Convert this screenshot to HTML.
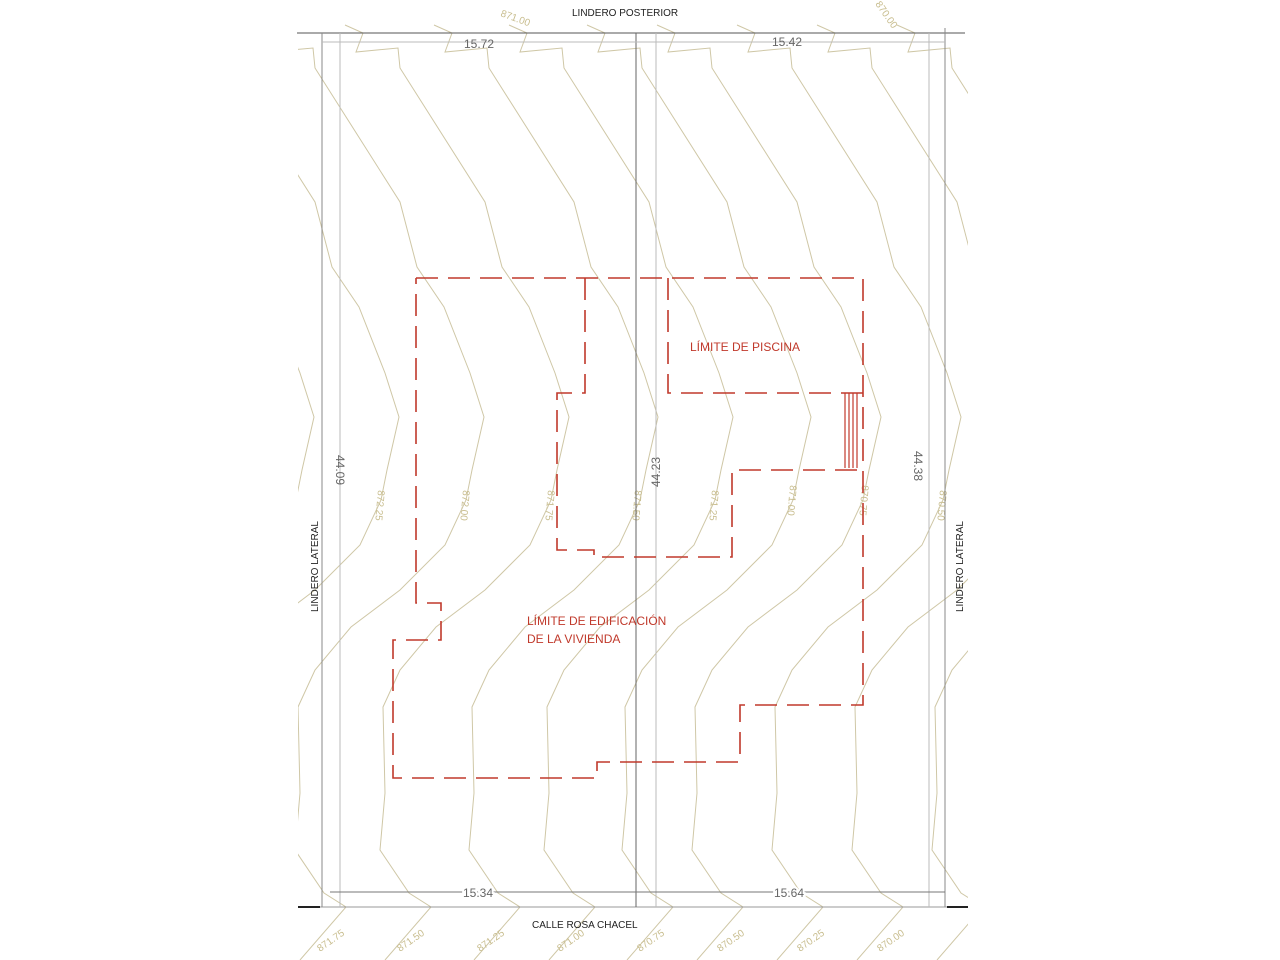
<!DOCTYPE html>
<html><head><meta charset="utf-8"><style>
html,body{margin:0;padding:0;background:#fff;width:1280px;height:960px;overflow:hidden}
svg{display:block}
.t{font-family:"Liberation Sans",sans-serif}
</style></head><body>
<svg width="1280" height="960" viewBox="0 0 1280 960" xmlns="http://www.w3.org/2000/svg">
<defs>
<polyline id="c" fill="none" stroke="#cfc7a6" stroke-width="1" points="0,25 18,33 11,52 53,48 55,68 140,202 157,267 184,307 210,373 224,417 212,470 206,500 185,545 140,590 91,627 55,670 38,707 40,793 35,850 64,893 86,907 40,960"/>
<clipPath id="cl"><rect x="298" y="0" width="670" height="960"/></clipPath>
</defs>
<g clip-path="url(#cl)">
<use href="#c" x="90" y="0"/>
<use href="#c" x="175" y="0"/>
<use href="#c" x="260" y="0"/>
<use href="#c" x="345" y="0"/>
<use href="#c" x="434" y="0"/>
<use href="#c" x="509" y="0"/>
<use href="#c" x="587" y="0"/>
<use href="#c" x="657" y="0"/>
<use href="#c" x="737" y="0"/>
<use href="#c" x="817" y="0"/>
<use href="#c" x="897" y="0"/>
</g>
<g class="t" font-size="10" fill="#c8bd8e">
<text x="378" y="490" transform="rotate(95 378 490)">872.25</text>
<text x="463" y="490" transform="rotate(95 463 490)">872.00</text>
<text x="548" y="490" transform="rotate(95 548 490)">871.75</text>
<text x="635" y="490" transform="rotate(95 635 490)">871.50</text>
<text x="712" y="490" transform="rotate(95 712 490)">871.25</text>
<text x="790" y="485" transform="rotate(95 790 485)">871.00</text>
<text x="862" y="485" transform="rotate(95 862 485)">870.75</text>
<text x="940" y="490" transform="rotate(95 940 490)">870.50</text>
<text x="500" y="16" transform="rotate(20 500 16)">871.00</text>
<text x="875" y="4" transform="rotate(55 875 4)">870.00</text>
<text x="320" y="952" transform="rotate(-35 320 952)">871.75</text>
<text x="400" y="952" transform="rotate(-35 400 952)">871.50</text>
<text x="480" y="952" transform="rotate(-35 480 952)">871.25</text>
<text x="560" y="952" transform="rotate(-35 560 952)">871.00</text>
<text x="640" y="952" transform="rotate(-35 640 952)">870.75</text>
<text x="720" y="952" transform="rotate(-35 720 952)">870.50</text>
<text x="800" y="952" transform="rotate(-35 800 952)">870.25</text>
<text x="880" y="952" transform="rotate(-35 880 952)">870.00</text>
</g>
<g stroke="#555" stroke-width="1" fill="none">
<line x1="297" y1="33" x2="965" y2="33"/>
<line x1="298" y1="907" x2="968" y2="907" stroke="#999"/>
<line x1="298" y1="907" x2="320" y2="907" stroke="#222" stroke-width="2"/>
<line x1="947" y1="907" x2="968" y2="907" stroke="#222" stroke-width="2"/>
<line x1="322" y1="33" x2="322" y2="907" stroke="#888"/>
<line x1="636" y1="33" x2="636" y2="907" stroke="#666"/>
<line x1="945" y1="28" x2="945" y2="907" stroke="#888"/>
<line x1="340" y1="33" x2="340" y2="907" stroke="#bbb"/>
<line x1="656" y1="33" x2="656" y2="907" stroke="#bbb"/>
<line x1="929" y1="33" x2="929" y2="907" stroke="#bbb"/>
<line x1="322" y1="42" x2="945" y2="42" stroke="#bbb"/>
<line x1="330" y1="892" x2="945" y2="892" stroke="#777"/>
</g>
<g class="t" fill="#666" font-size="12">
<text x="464" y="48">15.72</text>
<text x="772" y="46">15.42</text>
<text x="463" y="897" style="paint-order:stroke" stroke="#fff" stroke-width="4">15.34</text>
<text x="774" y="897" style="paint-order:stroke" stroke="#fff" stroke-width="4">15.64</text>
<text x="336" y="455" transform="rotate(90 336 455)">44.09</text>
<text x="660" y="487" transform="rotate(-90 660 487)">44.23</text>
<text x="914" y="451" transform="rotate(90 914 451)">44.38</text>
</g>
<g class="t" fill="#222" font-size="10">
<text x="572" y="16">LINDERO POSTERIOR</text>
<text x="532" y="928">CALLE ROSA CHACEL</text>
<text x="318" y="612" transform="rotate(-90 318 612)">LINDERO LATERAL</text>
<text x="963" y="612" transform="rotate(-90 963 612)">LINDERO LATERAL</text>
</g>
<g stroke="#c0392b" stroke-width="1.6" fill="none" stroke-dasharray="22,10">
<polyline points="416,278 863,278 863,705 740,705 740,762 597,762 597,778 393,778 393,640 441,640 441,603 416,603 416,278"/>
<polyline points="585,278 585,393 557,393 557,550 594,550 594,557 732,557 732,470 863,470"/>
<polyline points="668,278 668,393 863,393"/>
</g>
<g stroke="#c0392b" stroke-width="1.2">
<line x1="845" y1="393" x2="845" y2="468"/>
<line x1="849" y1="393" x2="849" y2="468"/>
<line x1="853" y1="393" x2="853" y2="468"/>
<line x1="857" y1="393" x2="857" y2="468"/>
</g>
<g class="t" fill="#c0392b" font-size="12">
<text x="690" y="351">LÍMITE DE PISCINA</text>
<text x="527" y="625">LÍMITE DE EDIFICACIÓN</text>
<text x="527" y="643">DE LA VIVIENDA</text>
</g>
</svg>
</body></html>
